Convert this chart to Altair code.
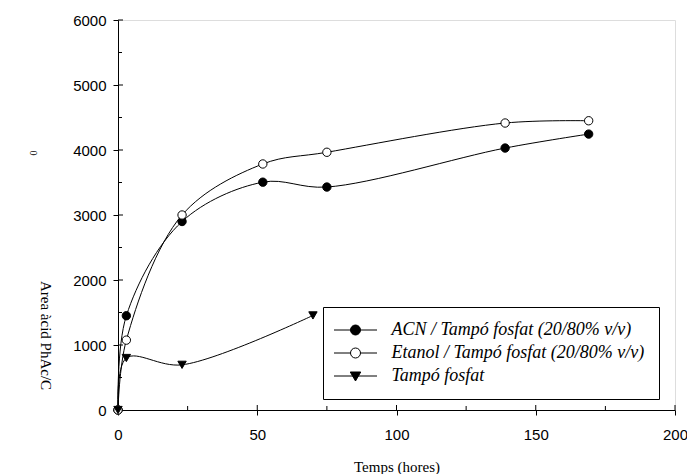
import altair as alt
import pandas as pd

series_names = [
    "ACN / Tampó fosfat (20/80% v/v)",
    "Etanol / Tampó fosfat (20/80% v/v)",
    "Tampó fosfat",
]
acn_t = [0, 3, 23, 52, 75, 139, 169]
acn_v = [0, 1450, 2900, 3505, 3430, 4030, 4245]
eta_t = [0, 3, 23, 52, 75, 139, 169]
eta_v = [0, 1075, 3000, 3785, 3965, 4415, 4450]
tam_t = [0, 3, 23, 70]
tam_v = [0, 800, 695, 1455]

x_major = [0, 50, 100, 150, 200]
x_minor = [25, 75, 125, 175]
y_major = [0, 1000, 2000, 3000, 4000, 5000, 6000]
y_minor = [500, 1500, 2500, 3500, 4500, 5500]

rows = []
for name, ts, vs in zip(series_names, [acn_t, eta_t, tam_t], [acn_v, eta_v, tam_v]):
    for t, v in zip(ts, vs):
        rows.append({"series": name, "t": t, "v": v})
df = pd.DataFrame(rows)

legend_paths = [
    "M-4.3,0H-1M1,0H4.3M1,0A1,1 0 1,1 -1,0A1,1 0 1,1 1,0Z",
    "M-4.3,0H-1M1,0H4.3M1,0A1,1 0 1,1 -1,0A1,1 0 1,1 1,0Z",
    "M-4.3,0H4.3M-1.05,-0.8L1.05,-0.8L0,1Z",
]
legend_fills = ["black", "white", "black"]
legend_strokes = ["black", "black", "black"]

xs = alt.Scale(domain=[0, 200], nice=False, zero=False)
ys = alt.Scale(domain=[0, 6000], nice=False, zero=False)

lab = dict(labelFont="Liberation Sans", labelFontSize=15, labelColor="black",
           domainColor="black", tickColor="black", grid=False, labelFlush=False,
           labelOverlap=False)

x_main = alt.X("t:Q", scale=xs, axis=alt.Axis(
    orient="bottom", values=x_major, format="d", tickSize=5, labelPadding=12,
    title="Temps (hores)", titleFont="Liberation Serif", titleFontSize=15,
    titleFontWeight="normal", titleColor="black", titleY=56, titleBaseline="middle",
    **lab))
y_main = alt.Y("v:Q", scale=ys, axis=alt.Axis(
    orient="left", values=y_major, format="d", tickSize=5, labelPadding=7,
    title="Area àcid PhAc/C", titleFont="Liberation Serif", titleFontSize=15,
    titleFontWeight="normal", titleColor="black", titleAngle=90,
    titleX=-73, titleY=315, titleAlign="center", titleBaseline="middle",
    **lab))

lines = alt.Chart(df).mark_line(
    interpolate="catmull-rom", color="black", strokeWidth=1
).encode(x=x_main, y=y_main, detail="series:N")

# inward ticks (major 5px, minor 4px)
xt_major = alt.Chart(pd.DataFrame({"t": x_major})).mark_rule(color="black", strokeWidth=1).encode(
    x=alt.X("t:Q", scale=xs), y=alt.value(385), y2=alt.value(390))
xt_minor = alt.Chart(pd.DataFrame({"t": x_minor})).mark_rule(color="black", strokeWidth=1).encode(
    x=alt.X("t:Q", scale=xs), y=alt.value(386), y2=alt.value(390))
yt_major = alt.Chart(pd.DataFrame({"v": y_major})).mark_rule(color="black", strokeWidth=1).encode(
    y=alt.Y("v:Q", scale=ys), x=alt.value(0), x2=alt.value(5))
yt_minor = alt.Chart(pd.DataFrame({"v": y_minor})).mark_rule(color="black", strokeWidth=1).encode(
    y=alt.Y("v:Q", scale=ys), x=alt.value(0), x2=alt.value(4))

points = alt.Chart(df).mark_point(
    filled=True, stroke="black", strokeWidth=1, size=70, opacity=1
).encode(
    x=alt.X("t:Q", scale=xs),
    y=alt.Y("v:Q", scale=ys),
    shape=alt.condition("datum.series == 'Tampó fosfat'",
                        alt.value("triangle-down"), alt.value("circle")),
    fill=alt.condition("indexof(datum.series, 'Etanol') == 0",
                       alt.value("white"), alt.value("black")),
)

legend_cfg = alt.Legend(
    title=None, orient="none", legendX=205, legendY=287, padding=14,
    strokeColor="black", fillColor="white", labelFont="Liberation Serif",
    labelFontStyle="italic", labelFontSize=18, labelColor="black",
    symbolSize=100, symbolOffset=9.5, labelOffset=27, rowPadding=5,
    symbolStrokeColor="black", symbolStrokeWidth=1, labelLimit=400,
)
legend_layer = alt.Chart(df).mark_point(
    filled=True, strokeWidth=1, opacity=1
).encode(
    x=alt.X("t:Q", scale=xs),
    y=alt.Y("v:Q", scale=ys),
    shape=alt.Shape("series:N", scale=alt.Scale(domain=series_names, range=legend_paths),
                    legend=legend_cfg),
    fill=alt.Fill("series:N", scale=alt.Scale(domain=series_names, range=legend_fills),
                  legend=legend_cfg),
    stroke=alt.Stroke("series:N", scale=alt.Scale(domain=series_names, range=legend_strokes),
                      legend=legend_cfg),
).transform_filter("false")

sub0 = alt.Chart(pd.DataFrame({"s": ["0"]})).mark_text(
    font="Liberation Serif", fontSize=10, angle=90, color="black"
).encode(x=alt.value(-85), y=alt.value(133), text="s:N")

chart = alt.layer(
    lines, xt_major, xt_minor, yt_major, yt_minor, points, legend_layer, sub0
).properties(
    width=557, height=390,
    autosize=alt.AutoSizeParams(type="none"),
    padding={"left": 118, "top": 20, "right": 12, "bottom": 64},
).configure_view(stroke="#808080", strokeWidth=1).configure(background="white")

chart.save("out.html", embed_options={"renderer": "svg", "actions": False})
